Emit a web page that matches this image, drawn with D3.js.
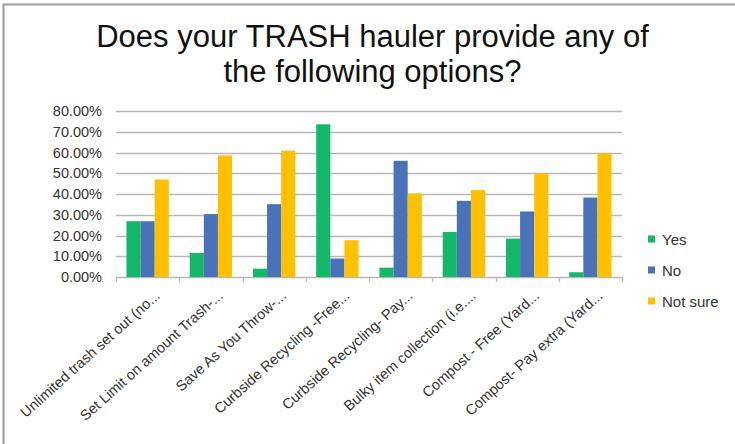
<!DOCTYPE html>
<html><head><meta charset="utf-8">
<script src="https://cdn.jsdelivr.net/npm/d3@7"></script>
<style>html,body{margin:0;padding:0;background:#fff;}svg{display:block;}</style>
</head><body>
<svg id="chart" width="735" height="444"></svg>
<script>
const categories = [
  "Unlimited trash set out (no...",
  "Set Limit on amount Trash-...",
  "Save As You Throw-...",
  "Curbside Recycling -Free...",
  "Curbside Recycling- Pay...",
  "Bulky item collection (i.e....",
  "Compost - Free (Yard...",
  "Compost- Pay extra (Yard..."
];
const seriesNames = ["Yes", "No", "Not sure"];
const yesValues = [26.9, 11.6, 4.0, 73.6, 4.5, 21.7, 18.5, 2.3];
const noValues = [26.9, 30.3, 35.1, 8.9, 56.0, 36.7, 31.6, 38.3];
const notSureValues = [47.0, 58.6, 60.9, 17.7, 40.3, 41.9, 49.9, 59.6];
const yTicks = [0, 10, 20, 30, 40, 50, 60, 70, 80];
const titleLines = ["Does your TRASH hauler provide any of", "the following options?"];
const colors = ["#14b86a", "#4a72b8", "#ffc000"];

const series = [yesValues, noValues, notSureValues];
const svg = d3.select("#chart");

// frame
svg.append("rect").attr("x", 3.5).attr("y", 4.5).attr("width", 740).attr("height", 450)
  .attr("fill", "#fff").attr("stroke", "#9a9a9a").attr("stroke-width", 2);

// title
svg.append("g").selectAll("text").data(titleLines).join("text")
  .attr("x", 372.5).attr("y", (d, i) => 47 + i * 35)
  .attr("text-anchor", "middle")
  .attr("font-family", "Liberation Sans, Arial, sans-serif")
  .attr("font-size", 31).attr("fill", "#111")
  .text(d => d);

const pLeft = 116, pRight = 622, pTop = 111, pBottom = 277;
const x0 = d3.scaleBand().domain(categories).range([pLeft, pRight]).paddingInner(0.33).paddingOuter(0.165);
const x1 = d3.scaleBand().domain(seriesNames).range([0, x0.bandwidth()]);
const y = d3.scaleLinear().domain([0, 80]).range([pBottom, pTop]);
const xb = d3.scaleBand().domain(categories).range([pLeft, pRight]);

// gridlines
svg.append("g").selectAll("line").data(yTicks).join("line")
  .attr("x1", pLeft).attr("x2", pRight)
  .attr("y1", d => Math.round(y(d)) + 0.5).attr("y2", d => Math.round(y(d)) + 0.5)
  .attr("stroke", "#b8b8b8").attr("stroke-width", 1.3);

// y labels
svg.append("g").selectAll("text").data(yTicks).join("text")
  .attr("x", 102).attr("y", d => y(d) + 5)
  .attr("text-anchor", "end")
  .attr("font-family", "Liberation Sans, Arial, sans-serif")
  .attr("font-size", 14.5).attr("fill", "#333")
  .text(d => d3.format(".2f")(d) + "%");

// bars
const groups = svg.append("g").selectAll("g").data(categories).join("g")
  .attr("transform", d => `translate(${x0(d)},0)`);
groups.selectAll("rect").data((c, ci) => seriesNames.map((s, si) => ({s, si, v: series[si][ci]})))
  .join("rect")
  .attr("x", d => x1(d.s)).attr("width", x1.bandwidth())
  .attr("y", d => y(d.v)).attr("height", d => pBottom - y(d.v))
  .attr("fill", d => colors[d.si]);

// x axis ticks
const tickPos = categories.map(c => xb(c)).concat([pRight]);
svg.append("g").selectAll("line").data(tickPos).join("line")
  .attr("x1", d => Math.round(d) + 0.5).attr("x2", d => Math.round(d) + 0.5)
  .attr("y1", pBottom).attr("y2", pBottom + 5)
  .attr("stroke", "#b8b8b8").attr("stroke-width", 1.3);

// x labels
svg.append("g").selectAll("text").data(categories).join("text")
  .attr("transform", d => `translate(${xb(d) + xb.bandwidth() / 2 + 13},297) rotate(-42)`)
  .attr("text-anchor", "end")
  .attr("font-family", "Liberation Sans, Arial, sans-serif")
  .attr("font-size", 14.5).attr("fill", "#333")
  .text(d => d);

// legend
const leg = svg.append("g").selectAll("g").data(seriesNames).join("g")
  .attr("transform", (d, i) => `translate(648,${239 + i * 31})`);
leg.append("rect").attr("x", 0).attr("y", -3.5).attr("width", 7).attr("height", 7)
  .attr("fill", (d, i) => colors[i]);
leg.append("text").attr("x", 14).attr("y", 5.5)
  .attr("font-family", "Liberation Sans, Arial, sans-serif")
  .attr("font-size", 15).attr("fill", "#333")
  .text(d => d);
</script>
</body></html>
